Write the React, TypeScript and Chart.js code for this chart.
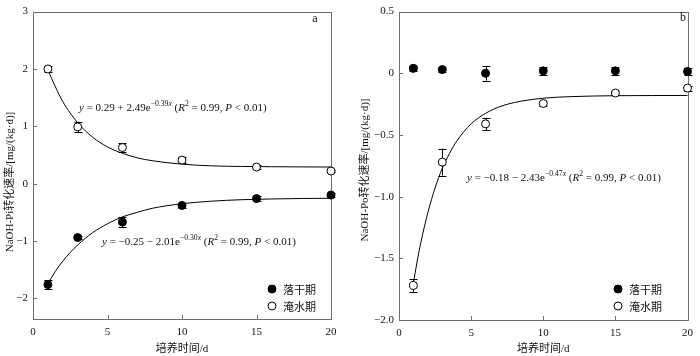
import React, { useEffect, useRef } from "react";
import { Chart, registerables } from "chart.js";
Chart.register(...registerables);

// ---------- data ----------
const days = [1, 3, 6, 10, 15, 20];
const xTickValues = [0, 5, 10, 15, 20];
const xTickLabels = ["0", "5", "10", "15", "20"];

// panel a (NaOH-Pi)
const aFlood = [2.0, 0.99, 0.63, 0.41, 0.29, 0.22];
const aFloodErr = [0.05, 0.09, 0.08, 0.05, 0.03, 0.02];
const aDry = [-1.76, -0.94, -0.67, -0.38, -0.26, -0.2];
const aDryErr = [0.08, 0.03, 0.09, 0.04, 0.05, 0.03];
const aFitX = [1, 1.5, 2, 2.5, 3, 4, 5, 6, 7, 8, 10, 12, 14, 16, 18, 20];
const aFloodFit = [1.98, 1.69, 1.43, 1.23, 1.06, 0.81, 0.64, 0.53, 0.45, 0.4, 0.34, 0.31, 0.3, 0.295, 0.292, 0.29];
const aDryFit = [-1.74, -1.53, -1.35, -1.2, -1.07, -0.855, -0.7, -0.58, -0.5, -0.43, -0.35, -0.305, -0.28, -0.267, -0.259, -0.255];
const aYTickValues = [-2, -1, 0, 1, 2, 3];
const aYTickLabels = ["\u22122", "\u22121", "0", "1", "2", "3"];

// panel b (NaOH-Po)
const bDry = [0.04, 0.03, 0.0, 0.02, 0.02, 0.015];
const bDryErr = [0.02, 0.02, 0.06, 0.03, 0.03, 0.03];
const bFlood = [-1.72, -0.72, -0.41, -0.245, -0.16, -0.12];
const bFloodErr = [0.05, 0.11, 0.05, 0.02, 0.02, 0.02];
const bFitX = [1, 1.25, 1.5, 2, 2.5, 3, 3.5, 4, 5, 6, 7, 8, 10, 12, 15, 20];
const bFloodFit = [-1.7, -1.53, -1.38, -1.13, -0.93, -0.77, -0.65, -0.55, -0.41, -0.325, -0.27, -0.237, -0.202, -0.189, -0.182, -0.18];
const bYTickValues = [-2, -1.5, -1, -0.5, 0, 0.5];
const bYTickLabels = ["\u22122.0", "\u22121.5", "\u22121.0", "\u22120.5", "0", "0.5"];

const legendLabels = ["落干期", "淹水期"];

const SERIF = "'Liberation Serif', 'Times New Roman', 'Noto Sans CJK SC', serif";
const CJK = "'Noto Sans CJK SC', sans-serif";
const FRAME = "#6e6e6e";

type Seg = { t: string; it?: boolean; sup?: boolean };

function drawRich(ctx: CanvasRenderingContext2D, x: number, y: number, segs: Seg[], size: number) {
  let cx = x;
  ctx.textBaseline = "alphabetic";
  ctx.textAlign = "left";
  ctx.fillStyle = "#111";
  for (const s of segs) {
    const fs = s.sup ? size * 0.7 : size;
    ctx.font = `${s.it ? "italic " : ""}${fs}px ${SERIF}`;
    ctx.fillText(s.t, cx, s.sup ? y - size * 0.42 : y);
    cx += ctx.measureText(s.t).width;
  }
}

const pts = (xs: number[], ys: number[]) => xs.map((x, i) => ({ x, y: ys[i] }));

type PanelCfg = {
  axisW: number;
  rightPad: number;
  topPad: number;
  bottomH: number;
  yMin: number;
  yMax: number;
  yTickValues: number[];
  yTickLabels: string[];
  dry: number[];
  dryErr: number[];
  flood: number[];
  floodErr: number[];
  fits: { xs: number[]; ys: number[] }[];
  yTitle: string;
  yTitleX: number;
  yTitleY: number;
  eqs: { x: number; y: number; segs: Seg[] }[];
  tag: string;
  tagX: number;
  tagY: number;
  legX: number;
  legY: number[];
};

function Panel({ cfg }: { cfg: PanelCfg }) {
  const ref = useRef<HTMLCanvasElement | null>(null);
  useEffect(() => {
    const canvas = ref.current;
    if (!canvas) return;
    const errData = [
      { ys: cfg.dry, es: cfg.dryErr },
      { ys: cfg.flood, es: cfg.floodErr },
    ];
    const plugin = {
      id: "decor",
      beforeDatasetsDraw(chart: any) {
        const { ctx, chartArea: a, scales } = chart;
        const xs = scales.x;
        const ys = scales.y;
        ctx.save();
        // frame
        ctx.strokeStyle = FRAME;
        ctx.lineWidth = 1;
        ctx.strokeRect(Math.round(a.left) + 0.5, Math.round(a.top) + 0.5, Math.round(a.right - a.left), Math.round(a.bottom - a.top));
        // inward ticks
        ctx.beginPath();
        for (const v of cfg.yTickValues) {
          const py = Math.round(ys.getPixelForValue(v)) + 0.5;
          ctx.moveTo(a.left, py);
          ctx.lineTo(a.left + 4, py);
        }
        for (const v of xTickValues) {
          const px = Math.round(xs.getPixelForValue(v)) + 0.5;
          ctx.moveTo(px, a.bottom);
          ctx.lineTo(px, a.bottom - 4);
        }
        ctx.stroke();
        // error bars
        ctx.strokeStyle = "#000";
        ctx.beginPath();
        for (const s of errData) {
          days.forEach((d, i) => {
            const px = Math.round(xs.getPixelForValue(d)) + 0.5;
            const hi = ys.getPixelForValue(s.ys[i] + s.es[i]);
            const lo = ys.getPixelForValue(s.ys[i] - s.es[i]);
            ctx.moveTo(px, hi);
            ctx.lineTo(px, lo);
            ctx.moveTo(px - 4, Math.round(hi) + 0.5);
            ctx.lineTo(px + 4, Math.round(hi) + 0.5);
            ctx.moveTo(px - 4, Math.round(lo) + 0.5);
            ctx.lineTo(px + 4, Math.round(lo) + 0.5);
          });
        }
        ctx.stroke();
        ctx.restore();
      },
      afterDraw(chart: any) {
        const { ctx, chartArea: a } = chart;
        ctx.save();
        // y title
        ctx.fillStyle = "#111";
        ctx.font = `11px ${SERIF}`;
        ctx.textAlign = "center";
        ctx.textBaseline = "middle";
        ctx.translate(cfg.yTitleX, cfg.yTitleY);
        ctx.rotate(-Math.PI / 2);
        ctx.fillText(cfg.yTitle, 0, 0);
        ctx.restore();
        ctx.save();
        // x title
        ctx.fillStyle = "#111";
        ctx.font = `11px ${SERIF}`;
        ctx.textAlign = "center";
        ctx.textBaseline = "middle";
        ctx.fillText("培养时间/d", (a.left + a.right) / 2, 349);
        // tag
        ctx.font = `12px ${SERIF}`;
        ctx.fillText(cfg.tag, cfg.tagX, cfg.tagY);
        // equations
        for (const e of cfg.eqs) drawRich(ctx, e.x, e.y, e.segs, 11);
        // legend
        ctx.lineWidth = 1;
        ctx.strokeStyle = "#000";
        legendLabels.forEach((lab, i) => {
          ctx.beginPath();
          ctx.arc(cfg.legX, cfg.legY[i], 4, 0, Math.PI * 2);
          ctx.fillStyle = i === 0 ? "#000" : "#fff";
          ctx.fill();
          ctx.stroke();
          ctx.fillStyle = "#111";
          ctx.font = `11px ${CJK}`;
          ctx.textAlign = "left";
          ctx.textBaseline = "middle";
          ctx.fillText(lab, cfg.legX + 11, cfg.legY[i] + 0.5);
        });
        ctx.restore();
      },
    };

    const fitSets = cfg.fits.map((f) => ({
      type: "line" as const,
      data: pts(f.xs, f.ys),
      borderColor: "#000",
      borderWidth: 1,
      pointRadius: 0,
      fill: false,
      cubicInterpolationMode: "monotone" as const,
      clip: false,
    }));

    const chart = new Chart(canvas, {
      type: "scatter",
      data: {
        datasets: [
          {
            label: legendLabels[0],
            data: pts(days, cfg.dry),
            pointRadius: 4,
            pointBackgroundColor: "#000",
            pointBorderColor: "#000",
            pointBorderWidth: 1,
            showLine: false,
            clip: false,
          },
          {
            label: legendLabels[1],
            data: pts(days, cfg.flood),
            pointRadius: 4,
            pointBackgroundColor: "#fff",
            pointBorderColor: "#000",
            pointBorderWidth: 1,
            showLine: false,
            clip: false,
          },
          ...fitSets,
        ] as any,
      },
      options: {
        animation: false,
        responsive: false,
        events: [],
        layout: { padding: { top: cfg.topPad, right: cfg.rightPad, left: 0, bottom: 0 } },
        plugins: { legend: { display: false }, tooltip: { enabled: false } },
        scales: {
          x: {
            type: "linear",
            min: 0,
            max: 20,
            grid: { display: false, drawTicks: false },
            border: { display: false },
            afterBuildTicks: (axis: any) => {
              axis.ticks = xTickValues.map((v) => ({ value: v }));
            },
            afterFit: (axis: any) => {
              axis.height = cfg.bottomH;
            },
            ticks: {
              padding: 7,
              color: "#111",
              font: { family: SERIF, size: 11 },
              maxRotation: 0,
              callback: (_v: any, i: number) => xTickLabels[i],
            },
          },
          y: {
            type: "linear",
            min: cfg.yMin,
            max: cfg.yMax,
            grid: { display: false, drawTicks: false },
            border: { display: false },
            afterBuildTicks: (axis: any) => {
              axis.ticks = cfg.yTickValues.map((v) => ({ value: v }));
            },
            afterFit: (axis: any) => {
              axis.width = cfg.axisW;
            },
            ticks: {
              padding: 5,
              color: "#111",
              font: { family: SERIF, size: 11 },
              callback: (_v: any, i: number) => cfg.yTickLabels[i],
            },
          },
        },
      } as any,
      plugins: [plugin],
    });
    return () => chart.destroy();
  }, [cfg]);
  return <canvas ref={ref} width={350} height={356} style={{ display: "block", width: 350, height: 356 }} />;
}

const eqA1: Seg[] = [
  { t: "y", it: true },
  { t: " = 0.29 + 2.49e" },
  { t: "\u22120.39", sup: true },
  { t: "x", it: true, sup: true },
  { t: " (" },
  { t: "R", it: true },
  { t: "2", sup: true },
  { t: " = 0.99, " },
  { t: "P", it: true },
  { t: " < 0.01)" },
];
const eqA2: Seg[] = [
  { t: "y", it: true },
  { t: " = \u22120.25 \u2212 2.01e" },
  { t: "\u22120.30", sup: true },
  { t: "x", it: true, sup: true },
  { t: " (" },
  { t: "R", it: true },
  { t: "2", sup: true },
  { t: " = 0.99, " },
  { t: "P", it: true },
  { t: " < 0.01)" },
];
const eqB: Seg[] = [
  { t: "y", it: true },
  { t: " = \u22120.18 \u2212 2.43e" },
  { t: "\u22120.47", sup: true },
  { t: "x", it: true, sup: true },
  { t: " (" },
  { t: "R", it: true },
  { t: "2", sup: true },
  { t: " = 0.99, " },
  { t: "P", it: true },
  { t: " < 0.01)" },
];

const cfgA: PanelCfg = {
  axisW: 33,
  rightPad: 19,
  topPad: 5,
  bottomH: 37,
  yMin: -2.36,
  yMax: 3,
  yTickValues: aYTickValues,
  yTickLabels: aYTickLabels,
  dry: aDry,
  dryErr: aDryErr,
  flood: aFlood,
  floodErr: aFloodErr,
  fits: [
    { xs: aFitX, ys: aFloodFit },
    { xs: aFitX, ys: aDryFit },
  ],
  yTitle: "NaOH-Pi转化速率/[mg/(kg·d)]",
  yTitleX: 10,
  yTitleY: 182,
  eqs: [
    { x: 79, y: 111, segs: eqA1 },
    { x: 102, y: 245, segs: eqA2 },
  ],
  tag: "a",
  tagX: 315,
  tagY: 19,
  legX: 272,
  legY: [289, 306],
};

const cfgB: PanelCfg = {
  axisW: 49,
  rightPad: 6,
  topPad: 5,
  bottomH: 36,
  yMin: -2,
  yMax: 0.5,
  yTickValues: bYTickValues,
  yTickLabels: bYTickLabels,
  dry: bDry,
  dryErr: bDryErr,
  flood: bFlood,
  floodErr: bFloodErr,
  fits: [{ xs: bFitX, ys: bFloodFit }],
  yTitle: "NaOH-Po转化速率/[mg/(kg·d)]",
  yTitleX: 15,
  yTitleY: 170,
  eqs: [{ x: 117, y: 181, segs: eqB }],
  tag: "b",
  tagX: 333,
  tagY: 18,
  legX: 268,
  legY: [289, 306],
};

export default function App() {
  return (
    <div style={{ position: "fixed", left: 0, top: 0, width: 700, height: 356, display: "flex", background: "#fff" }}>
      <Panel cfg={cfgA} />
      <Panel cfg={cfgB} />
    </div>
  );
}
